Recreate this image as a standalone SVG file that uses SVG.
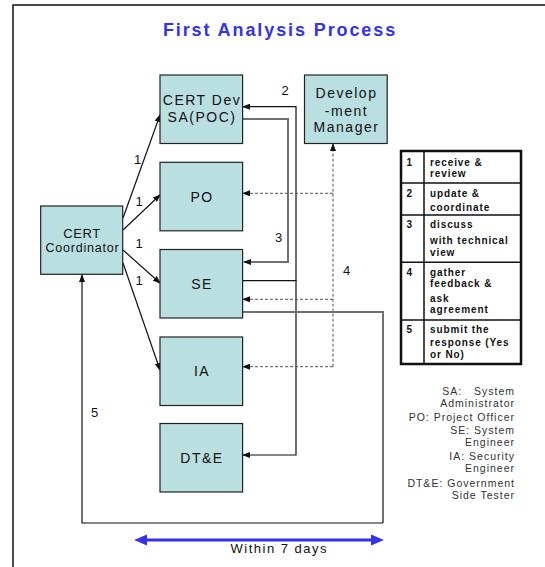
<svg xmlns="http://www.w3.org/2000/svg" width="545" height="567" viewBox="0 0 545 567">
<defs>
<style>
.box{fill:#B9DFE1;stroke:#222;stroke-width:1.2}
.nt{font-family:"Liberation Sans",Arial,sans-serif;font-size:14px;letter-spacing:1.5px;fill:#111;text-anchor:middle}
.lbl{font-family:"Liberation Sans",Arial,sans-serif;font-size:13px;fill:#111}
.tb{font-family:"Liberation Sans",Arial,sans-serif;font-size:10px;font-weight:bold;letter-spacing:0.9px;fill:#111}
.ab{font-family:"Liberation Sans",Arial,sans-serif;font-size:10.5px;letter-spacing:1px;fill:#333;text-anchor:end}
.ln{fill:none;stroke:#111;stroke-width:1.2}
.gr{fill:none;stroke:#707070;stroke-width:2}
.ds{fill:none;stroke:#555;stroke-width:1;stroke-dasharray:3,2}
</style>
<marker id="ah" markerWidth="8" markerHeight="6" refX="7" refY="3" orient="auto" markerUnits="userSpaceOnUse">
<path d="M0,0 L8,3 L0,6 Z" fill="#111"/>
</marker>
</defs>
<rect width="545" height="567" fill="#fff"/>
<path d="M13,567 V5 H545" fill="none" stroke="#111" stroke-width="1.5"/>
<text x="280" y="35.7" text-anchor="middle" font-family="'Liberation Sans',Arial,sans-serif" font-size="18" font-weight="bold" letter-spacing="1.9" fill="#3333EE">First Analysis Process</text>

<g id="connectors">
<path class="ln" d="M123,218 L160,115" marker-end="url(#ah)"/>
<path class="ln" d="M123,230 L160,195" marker-end="url(#ah)"/>
<path class="ln" d="M123,250 L160,283" marker-end="url(#ah)"/>
<path class="ln" d="M123,263 L160,370" marker-end="url(#ah)"/>
<path class="ln" d="M243,280.7 H296 V106.7 H243" marker-end="url(#ah)"/>
<path class="ln" d="M296,280 V455 H243" marker-end="url(#ah)"/>
<path class="gr" d="M243,119 H288 V262 H244" marker-end="url(#ah)"/>
<path class="ds" d="M333,366.7 V144" marker-end="url(#ah)"/>
<path class="ds" d="M333,193.3 H243" marker-end="url(#ah)"/>
<path class="ds" d="M333,299.3 H243" marker-end="url(#ah)"/>
<path class="ds" d="M333,366.7 H243" marker-end="url(#ah)"/>
<path class="gr" d="M243,312 H383 V523"/>
<path class="ln" d="M383,523 H82 V275" marker-end="url(#ah)"/>
<text class="lbl" x="134" y="164">1</text>
<text class="lbl" x="135.5" y="205.7">1</text>
<text class="lbl" x="135.5" y="248">1</text>
<text class="lbl" x="135.5" y="285">1</text>
<text class="lbl" x="281.5" y="95">2</text>
<text class="lbl" x="275" y="241.7">3</text>
<text class="lbl" x="343" y="275">4</text>
<text class="lbl" x="91" y="417">5</text>
</g>

<g id="cert-dev"><rect class="box" x="160" y="75" width="82.6" height="68.5"/>
<text class="nt" x="202" y="105">CERT Dev</text><text class="nt" x="202" y="121.5">SA(POC)</text></g>
<g id="dev-manager"><rect class="box" x="304.5" y="75" width="82.7" height="68.5"/>
<text class="nt" x="346.5" y="98.3">Develop</text><text class="nt" x="346.5" y="115.5">-ment</text><text class="nt" x="346.5" y="132.3">Manager</text></g>
<g id="po"><rect class="box" x="160" y="162.3" width="82.6" height="68.5"/><text class="nt" x="202" y="202">PO</text></g>
<g id="se"><rect class="box" x="160" y="249.5" width="82.6" height="68.5"/><text class="nt" x="202" y="289">SE</text></g>
<g id="ia"><rect class="box" x="160" y="337" width="82.6" height="68.5"/><text class="nt" x="202" y="376">IA</text></g>
<g id="dte"><rect class="box" x="160" y="423.5" width="82.6" height="68.5"/><text class="nt" x="202" y="463">DT&amp;E</text></g>
<g id="cert-coord"><rect class="box" x="40.7" y="206" width="82" height="68.3"/>
<text class="nt" x="82" y="238.3" style="font-size:13px;letter-spacing:0.6px">CERT</text>
<text class="nt" x="82.5" y="252.3" style="font-size:12.5px;letter-spacing:0.8px">Coordinator</text></g>

<g id="legend-table">
<rect x="401" y="151" width="120" height="213" fill="#fff" stroke="#111" stroke-width="2.5"/>
<path d="M424,151 V364 M401,183 H521 M401,215 H521 M401,262.3 H521 M401,320 H521" stroke="#111" stroke-width="1.5" fill="none"/>
<text class="tb" x="406.5" y="165.7">1</text><text class="tb" x="430" y="165.7">receive &amp;</text><text class="tb" x="430" y="177.3">review</text>
<text class="tb" x="406.5" y="196.7">2</text><text class="tb" x="430" y="196.7">update &amp;</text><text class="tb" x="430" y="210.7">coordinate</text>
<text class="tb" x="406.5" y="227.7">3</text><text class="tb" x="430" y="227.7">discuss</text><text class="tb" x="430" y="244">with technical</text><text class="tb" x="430" y="256">view</text>
<text class="tb" x="406.5" y="275.5">4</text><text class="tb" x="430" y="275.5">gather</text><text class="tb" x="430" y="287.3">feedback &amp;</text><text class="tb" x="430" y="301.7">ask</text><text class="tb" x="430" y="313.3">agreement</text>
<text class="tb" x="406.5" y="332.7">5</text><text class="tb" x="430" y="332.7">submit the</text><text class="tb" x="430" y="345.7">response (Yes</text><text class="tb" x="430" y="358.3">or No)</text>
</g>

<g id="abbreviations">
<text class="ab" x="515" y="395" xml:space="preserve">SA:   System</text>
<text class="ab" x="515" y="407.3">Administrator</text>
<text class="ab" x="515" y="420.7">PO: Project Officer</text>
<text class="ab" x="515" y="434">SE: System</text>
<text class="ab" x="515" y="445.5">Engineer</text>
<text class="ab" x="515" y="460">IA: Security</text>
<text class="ab" x="515" y="472.3">Engineer</text>
<text class="ab" x="515" y="486.7">DT&amp;E: Government</text>
<text class="ab" x="515" y="499.3">Side Tester</text>
</g>

<g id="timeline">
<line x1="145" y1="540" x2="373" y2="540" stroke="#3333EE" stroke-width="3"/>
<polygon points="134,540 147,534.5 147,545.5" fill="#3333EE"/>
<polygon points="384,540 371,534.5 371,545.5" fill="#3333EE"/>
<text x="230.5" y="552.7" font-family="'Liberation Sans',Arial,sans-serif" font-size="13" letter-spacing="1.5" fill="#111">Within 7 days</text>
</g>
</svg>
